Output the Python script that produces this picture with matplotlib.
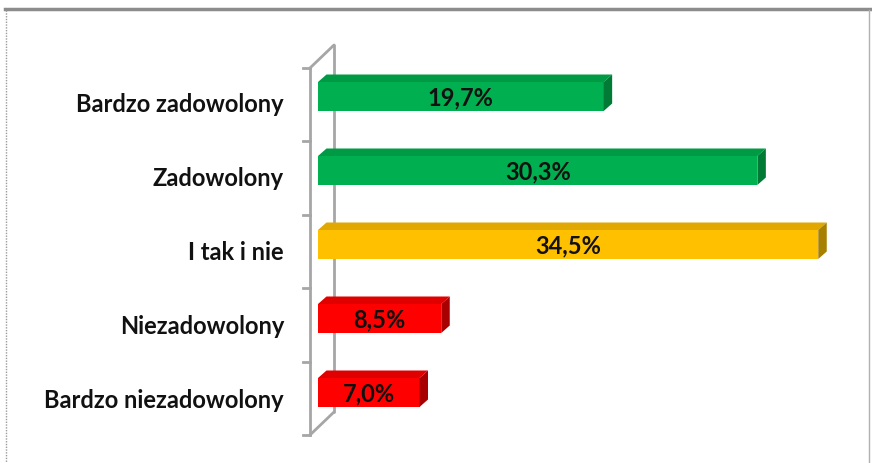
import matplotlib
matplotlib.use("Agg")
import matplotlib.pyplot as plt
from matplotlib.patches import Polygon
from matplotlib.lines import Line2D

categories = ["Bardzo zadowolony", "Zadowolony", "I tak i nie", "Niezadowolony", "Bardzo niezadowolony"]
values = [19.7, 30.3, 34.5, 8.5, 7.0]
labels = ["19,7%", "30,3%", "34,5%", "8,5%", "7,0%"]
front_colors = ["#00B050", "#00B050", "#FFC000", "#FF0000", "#FF0000"]
top_colors = ["#009A45", "#009A45", "#E0A800", "#E00000", "#E00000"]
side_colors = ["#007A35", "#007A35", "#A88000", "#A80000", "#A80000"]

W, H = 872, 463
fig = plt.figure(figsize=(W / 100, H / 100), dpi=100)
ax = fig.add_axes([0, 0, 1, 1])
ax.set_axis_off()

# pixel geometry -> data scales
x0_px = 318.0          # x pixel of 0 %
px_per_pct = 14.5
y0_px = 96.5           # y pixel of first category centre
px_per_row = 74.0
ax.set_xlim(-x0_px / px_per_pct, (W - x0_px) / px_per_pct)
ax.set_ylim((H - y0_px) / px_per_row, -y0_px / px_per_row)

def px2x(p):
    return (p - x0_px) / px_per_pct

def px2y(p):
    return (p - y0_px) / px_per_row

dx = 8.5 / px_per_pct
dy = 7.5 / px_per_row
bh = 29.0 / px_per_row

# 3D wall
wall = "#A6A6A6"
fx = px2x(310); bx = px2x(334)
ytop_f = px2y(68); ybot_f = px2y(435)
ytop_b = px2y(45); ybot_b = px2y(412)
for xs, ys in [([fx, fx], [ytop_f, ybot_f]), ([bx, bx], [ytop_b, ybot_b]),
               ([fx, bx], [ytop_f, ytop_b]), ([fx, bx], [ybot_f, ybot_b])]:
    ax.add_line(Line2D(xs, ys, color=wall, lw=2.0, solid_capstyle="round"))
n = len(categories)
for k in range(n + 1):
    yt = ytop_f + k * (ybot_f - ytop_f) / n
    ax.add_line(Line2D([px2x(303), fx], [yt, yt], color=wall, lw=2.0))

# bars
for i, (v, lab) in enumerate(zip(values, labels)):
    yt = i - bh / 2
    yb = i + bh / 2
    ax.barh(i, v, height=bh, left=0, color=front_colors[i], edgecolor="none", zorder=3)
    ax.add_patch(Polygon([(0, yt), (v, yt), (v + dx, yt - dy), (dx, yt - dy)],
                         closed=True, facecolor=top_colors[i], edgecolor="none", zorder=3))
    ax.add_patch(Polygon([(v, yt), (v + dx, yt - dy), (v + dx, yb - dy), (v, yb)],
                         closed=True, facecolor=side_colors[i], edgecolor="none", zorder=3))
    ax.text(v / 2, i + 0.015, lab, ha="center", va="center", fontsize=17,
            fontweight="bold", family="Lato", color="#111111", zorder=4)
    ax.text(px2x(284), i + 8.5 / px_per_row, categories[i], ha="right", va="center",
            fontsize=17, fontweight="bold", family="Lato", color="#111111")

# frame
ax.add_line(Line2D([px2x(5), px2x(872)], [px2y(9.5), px2y(9.5)], color="#8C8C8C", lw=2.5))
ax.add_line(Line2D([px2x(6), px2x(6)], [px2y(10), px2y(463)], color="#9A9A9A", lw=1.0, ls=(0, (1, 1))))
ax.add_line(Line2D([px2x(869), px2x(869)], [px2y(10), px2y(463)], color="#B0B0B0", lw=1.0))

fig.savefig("out.png", dpi=100)
